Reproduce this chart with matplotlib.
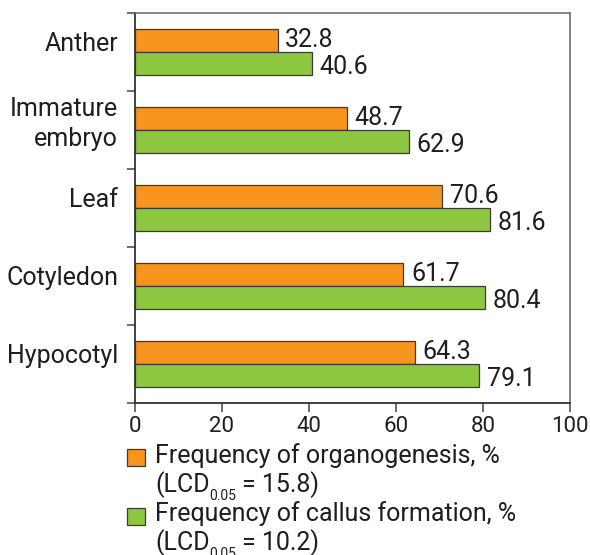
import matplotlib
matplotlib.use("Agg")
import matplotlib.pyplot as plt
from matplotlib.patches import Rectangle
from matplotlib.transforms import offset_copy, blended_transform_factory
import numpy as np

categories = ["Anther", "Immature\nembryo", "Leaf", "Cotyledon", "Hypocotyl"]
organogenesis = [32.8, 48.7, 70.6, 61.7, 64.3]
callus = [40.6, 62.9, 81.6, 80.4, 79.1]
xticks = [0, 20, 40, 60, 80, 100]
legend_labels = ["Frequency of organogenesis, %", "Frequency of callus formation, %"]
lcd_values = [15.8, 10.2]

ORANGE = "#F7941D"
GREEN = "#8DC63F"
EDGE = "#3a3a3a"
TXT = "#1e1e1e"
FONT = "Roboto"
FS = 18

plt.rcParams["font.family"] = [FONT, "DejaVu Sans"]

W, H = 590, 555
fig = plt.figure(figsize=(W / 100, H / 100), dpi=100)
ax = fig.add_axes([135 / W, 1 - 403 / H, (570 - 135) / W, (403 - 13) / H])

y = np.arange(len(categories))
bh = 0.29
ax.barh(y - bh / 2, organogenesis, height=bh, color=ORANGE, edgecolor=EDGE, linewidth=0.9)
ax.barh(y + bh / 2, callus, height=bh, color=GREEN, edgecolor=EDGE, linewidth=0.9)

for i in range(len(categories)):
    ax.annotate(f"{organogenesis[i]:.1f}", (organogenesis[i], y[i] - bh / 2),
                xytext=(5.5, -4.7), textcoords="offset points", va="baseline", ha="left",
                fontsize=FS, color=TXT)
    ax.annotate(f"{callus[i]:.1f}", (callus[i], y[i] + bh / 2),
                xytext=(5.5, -7.6), textcoords="offset points", va="baseline", ha="left",
                fontsize=FS, color=TXT)

ax.set_xlim(0, 100)
ax.set_ylim(len(categories) - 0.5, -0.5)
ax.set_xticks(xticks)
ax.set_xticklabels([str(t) for t in xticks], fontsize=16, color=TXT)
ax.set_yticks(np.arange(-0.5, len(categories)))
ax.set_yticklabels([])
ax.tick_params(axis="y", which="major", length=6, width=1.1, color="#444444")
ax.tick_params(axis="x", length=6.5, width=1.1, color="#444444", pad=3)

# category labels (baseline-aligned near the group centre)
blend = blended_transform_factory(ax.transAxes, ax.transData)
for i, cat in enumerate(categories):
    n = cat.count("\n")
    dy_px = 1 - n * 17
    tr = offset_copy(blend, fig=fig, x=-17, y=dy_px, units="dots")
    ax.text(0, y[i], cat, transform=tr, ha="right", va="baseline", fontsize=FS,
            color=TXT, linespacing=1.32, multialignment="right")

for s in ["left", "bottom"]:
    ax.spines[s].set_color("#333333")
    ax.spines[s].set_linewidth(1.3)
for s in ["top", "right"]:
    ax.spines[s].set_color("#666666")
    ax.spines[s].set_linewidth(1.1)

# legend
renderer = fig.canvas.get_renderer()
colors = [ORANGE, GREEN]
rows = [(463, 492, 449), (521, 550, 508)]
x0 = 155
for k in range(2):
    base1, base2, ptop = rows[k]
    fig.patches.append(Rectangle((127 / W, 1 - (ptop + 17) / H), 18 / W, 17 / H,
                                 transform=fig.transFigure, facecolor=colors[k],
                                 edgecolor=EDGE, linewidth=0.9))
    fig.text(x0 / W, 1 - base1 / H, legend_labels[k], fontsize=FS, va="baseline",
             ha="left", color=TXT)
    t1 = fig.text(x0 / W, 1 - base2 / H, "(LCD", fontsize=FS, va="baseline",
                  ha="left", color=TXT)
    x1 = t1.get_window_extent(renderer).x1
    t2 = fig.text(x1 / W, 1 - (base2 + 8) / H, "0.05", fontsize=10, va="baseline",
                  ha="left", color=TXT)
    x2 = t2.get_window_extent(renderer).x1 + 6
    fig.text(x2 / W, 1 - base2 / H, f"= {lcd_values[k]:.1f})", fontsize=FS,
             va="baseline", ha="left", color=TXT)

fig.savefig("out.png", dpi=100)
